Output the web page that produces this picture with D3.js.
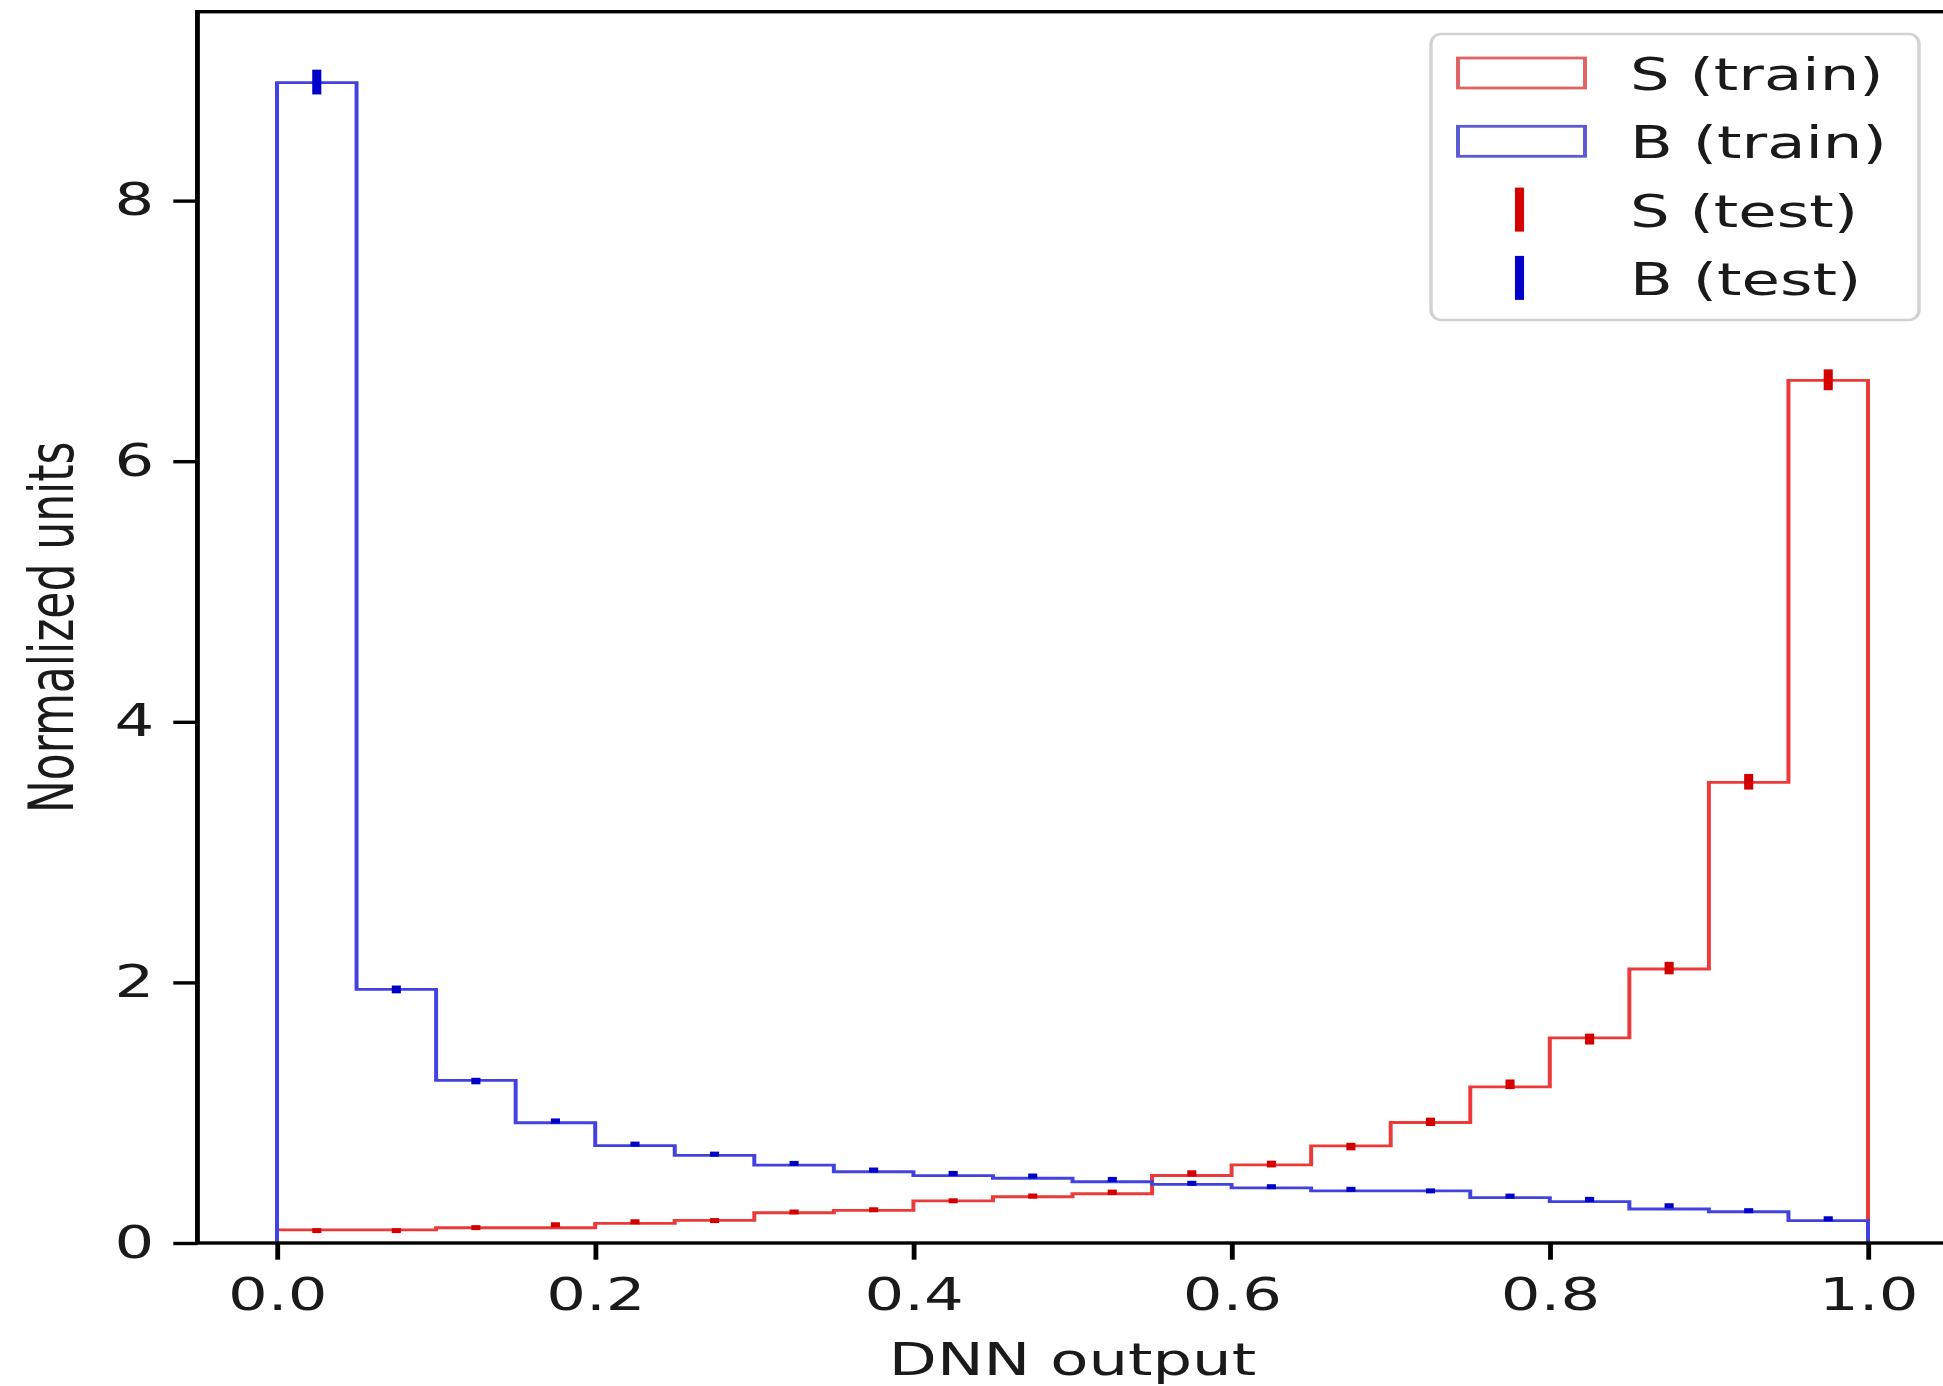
<!DOCTYPE html>
<html>
<head>
<meta charset="utf-8">
<script src="https://cdn.jsdelivr.net/npm/d3@7"></script>
<style>
  html, body { margin: 0; padding: 0; background: #fff; }
  svg text { font-family: "DejaVu Sans", sans-serif; fill: #1a1a1a; }
</style>
</head>
<body>
<svg id="chart" width="1943" height="1386"></svg>
<script>
// bin edges of the DNN output histogram
const binEdges = [0, 0.05, 0.1, 0.15, 0.2, 0.25, 0.3, 0.35, 0.4, 0.45, 0.5,
  0.55, 0.6, 0.65, 0.7, 0.75, 0.8, 0.85, 0.9, 0.95, 1.0];

// training histograms (step outlines)
const sTrain = [0.100, 0.100, 0.117, 0.117, 0.151, 0.173, 0.232, 0.250, 0.323, 0.355,
  0.378, 0.518, 0.600, 0.746, 0.925, 1.199, 1.574, 2.103, 3.535, 6.620];
const bTrain = [8.906, 1.946, 1.248, 0.923, 0.748, 0.673, 0.597, 0.547, 0.517, 0.497,
  0.470, 0.450, 0.423, 0.400, 0.400, 0.348, 0.317, 0.261, 0.240, 0.171];

// test points with errors
const sTest = [0.095, 0.095, 0.118, 0.140, 0.163, 0.172, 0.238, 0.255, 0.324, 0.360,
  0.389, 0.534, 0.606, 0.740, 0.930, 1.218, 1.565, 2.110, 3.540, 6.625];
const sErr = [0.010, 0.010, 0.010, 0.012, 0.013, 0.014, 0.016, 0.017, 0.019, 0.020,
  0.021, 0.024, 0.026, 0.029, 0.032, 0.037, 0.042, 0.048, 0.060, 0.080];
const bTest = [8.910, 1.946, 1.243, 0.936, 0.759, 0.682, 0.611, 0.560, 0.534, 0.514,
  0.488, 0.458, 0.432, 0.412, 0.400, 0.360, 0.335, 0.286, 0.248, 0.186];
const bErr = [0.095, 0.030, 0.025, 0.020, 0.018, 0.017, 0.016, 0.015, 0.015, 0.014,
  0.014, 0.013, 0.013, 0.013, 0.012, 0.012, 0.011, 0.010, 0.010, 0.008];

const xTicks = [0, 0.2, 0.4, 0.6, 0.8, 1.0];
const yTicks = [0, 2, 4, 6, 8];
const legendLabels = ['S (train)', 'B (train)', 'S (test)', 'B (test)'];

const stretch = 1.42;   // the picture is wider than tall in its units
const fontSize = 44;

const svg = d3.select('#chart');
const g = svg.append('g').attr('transform', `scale(${stretch},1)`);

const x = d3.scaleLinear().domain([0, 1]).range([277 / stretch, 1868 / stretch]);
const y = d3.scaleLinear().domain([0, 9.45]).range([1243, 11.7]);
const xLo = x(-0.05), xHi = x(1.05);

// Step 1: histogram outlines
const stepPoints = vals => {
  const pts = [[binEdges[0], 0]];
  vals.forEach((v, i) => {
    pts.push([binEdges[i], v]);
    pts.push([binEdges[i + 1], v]);
  });
  pts.push([binEdges[binEdges.length - 1], 0]);
  return pts;
};
const line = d3.line().x(d => x(d[0])).y(d => y(d[1]));

const series = [
  { name: 'S', train: sTrain, test: sTest, err: sErr, line: '#ec3a3a', bar: '#d40000', patch: '#e06464' },
  { name: 'B', train: bTrain, test: bTest, err: bErr, line: '#4242e0', bar: '#0000c8', patch: '#5a5ad2' }
];

g.append('g').attr('class', 'hist-lines')
  .selectAll('path')
  .data(series)
  .join('path')
  .attr('d', d => line(stepPoints(d.train)))
  .attr('fill', 'none')
  .attr('stroke', d => d.line)
  .attr('stroke-width', 2.8)
  .attr('stroke-linejoin', 'miter');

// Step 2: test error bars at bin centres
const barW = 6.4, minH = 5;
series.forEach(s => {
  const pts = s.test.map((v, i) => ({
    c: (binEdges[i] + binEdges[i + 1]) / 2, v, e: s.err[i]
  }));
  g.append('g').attr('class', `errbars-${s.name}`)
    .selectAll('rect')
    .data(pts)
    .join('rect')
    .attr('x', d => x(d.c) - barW / 2)
    .attr('width', barW)
    .attr('y', d => {
      const h = Math.max(y(d.v - d.e) - y(d.v + d.e), minH);
      return y(d.v) - h / 2;
    })
    .attr('height', d => Math.max(y(d.v - d.e) - y(d.v + d.e), minH))
    .attr('fill', s.bar);
});

// Step 3: axes
const xAxis = d3.axisBottom(x).tickValues(xTicks).tickFormat(d3.format('.1f'))
  .tickSize(16.7).tickPadding(19);
const yAxis = d3.axisLeft(y).tickValues(yTicks).tickFormat(d3.format('d'))
  .tickSize(17).tickPadding(13.5);

const gx = g.append('g').attr('transform', `translate(0,${y(0)})`).call(xAxis);
const gy = g.append('g').attr('transform', `translate(${xLo},0)`).call(yAxis);
[gx, gy].forEach(a => {
  a.select('.domain').remove();
  a.selectAll('.tick line').attr('stroke', '#000').attr('stroke-width', 3.4);
  a.selectAll('.tick text')
    .attr('font-size', fontSize)
    .attr('font-family', '"DejaVu Sans", sans-serif')
    .attr('fill', '#1a1a1a');
});

// spines
g.append('rect')
  .attr('x', xLo).attr('y', y(9.45))
  .attr('width', xHi - xLo).attr('height', y(0) - y(9.45))
  .attr('fill', 'none').attr('stroke', '#000').attr('stroke-width', 3.4);

// axis labels
g.append('text')
  .attr('x', x(0.5)).attr('y', 1375)
  .attr('text-anchor', 'middle')
  .attr('font-size', fontSize)
  .text('DNN output');

g.append('text')
  .attr('transform', `translate(${73 / stretch},${(y(0) + y(9.45)) / 2}) rotate(-90)`)
  .attr('text-anchor', 'middle')
  .attr('font-size', fontSize)
  .text('Normalized units');

// Step 4: legend
const lg = g.append('g').attr('class', 'legend');
lg.append('rect')
  .attr('x', 1431 / stretch).attr('y', 34)
  .attr('width', (1919 - 1431) / stretch).attr('height', 286)
  .attr('rx', 7).attr('ry', 10)
  .attr('fill', 'rgba(255,255,255,0.8)')
  .attr('stroke', '#d2d2d2').attr('stroke-width', 2.4);

const rowY = i => 73 + i * 68.3;
const legendItems = legendLabels.map((label, i) => ({
  label, kind: i < 2 ? 'patch' : 'bar', s: series[i % 2], i
}));

const items = lg.selectAll('g.item')
  .data(legendItems)
  .join('g')
  .attr('class', 'item');

items.filter(d => d.kind === 'patch')
  .append('rect')
  .attr('x', 1458 / stretch).attr('width', (1585 - 1458) / stretch)
  .attr('y', d => rowY(d.i) - 15).attr('height', 30)
  .attr('fill', 'none')
  .attr('stroke', d => d.s.patch).attr('stroke-width', 2.8);

items.filter(d => d.kind === 'bar')
  .append('rect')
  .attr('x', 1519.5 / stretch - barW / 2).attr('width', barW)
  .attr('y', d => rowY(d.i) - 22).attr('height', 44)
  .attr('fill', d => d.s.bar);

items.append('text')
  .attr('x', 1630 / stretch)
  .attr('y', d => rowY(d.i) + 17)
  .attr('font-size', fontSize)
  .text(d => d.label);
</script>
</body>
</html>
